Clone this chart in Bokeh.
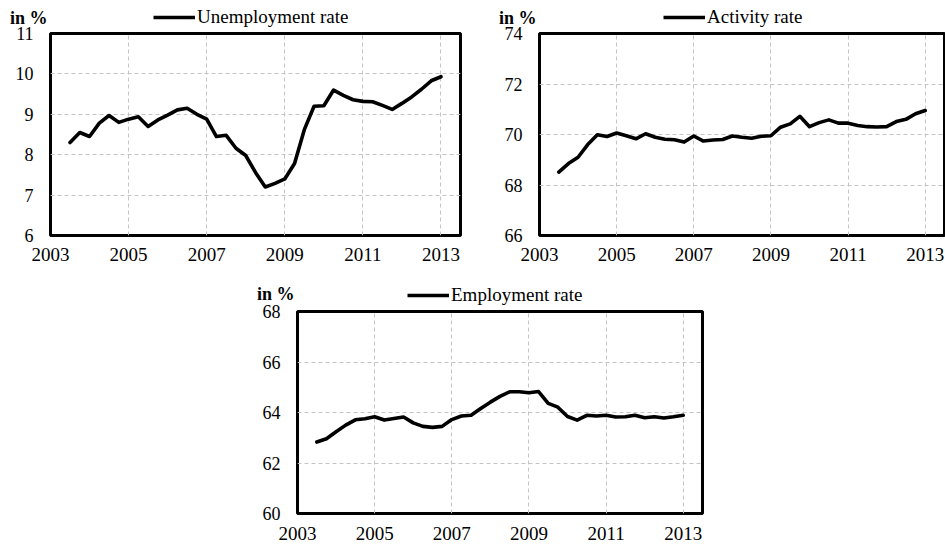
from bokeh.plotting import figure
from bokeh.models import (Range1d, FixedTicker, Legend, LegendItem, Spacer)
from bokeh.layouts import column, row
from bokeh.core.properties import value
from bokeh.embed import file_html
from bokeh.resources import INLINE

# ---- data -----------------------------------------------------------
quarters = [2003.50, 2003.75, 2004.00, 2004.25, 2004.50, 2004.75,
            2005.00, 2005.25, 2005.50, 2005.75, 2006.00, 2006.25,
            2006.50, 2006.75, 2007.00, 2007.25, 2007.50, 2007.75,
            2008.00, 2008.25, 2008.50, 2008.75, 2009.00, 2009.25,
            2009.50, 2009.75, 2010.00, 2010.25, 2010.50, 2010.75,
            2011.00, 2011.25, 2011.50, 2011.75, 2012.00, 2012.25,
            2012.50, 2012.75, 2013.00]

unemployment = [8.30, 8.55, 8.45, 8.78, 8.97, 8.80, 8.88, 8.94, 8.70, 8.86,
                8.98, 9.11, 9.15, 9.00, 8.88, 8.45, 8.48, 8.16, 7.98, 7.56,
                7.20, 7.29, 7.40, 7.78, 8.62, 9.20, 9.21, 9.60, 9.47, 9.36,
                9.32, 9.31, 9.22, 9.12, 9.27, 9.43, 9.62, 9.83, 9.93]

activity = [68.51, 68.85, 69.10, 69.60, 69.99, 69.92, 70.06, 69.95, 69.83, 70.03,
            69.89, 69.81, 69.79, 69.70, 69.94, 69.74, 69.78, 69.80, 69.94, 69.89,
            69.85, 69.93, 69.95, 70.29, 70.42, 70.72, 70.31, 70.47, 70.58, 70.45,
            70.45, 70.36, 70.31, 70.30, 70.31, 70.51, 70.60, 70.82, 70.95]

employment = [62.83, 62.96, 63.24, 63.50, 63.71, 63.75, 63.83, 63.70, 63.76, 63.82,
              63.59, 63.45, 63.41, 63.45, 63.72, 63.86, 63.89, 64.16, 64.41, 64.64,
              64.82, 64.82, 64.78, 64.83, 64.36, 64.21, 63.84, 63.70, 63.89, 63.86,
              63.89, 63.82, 63.83, 63.89, 63.79, 63.83, 63.78, 63.83, 63.89]

year_ticks = [2003, 2005, 2007, 2009, 2011, 2013]
year_labels = ["2003", "2005", "2007", "2009", "2011", "2013"]

unemp_ticks = [6, 7, 8, 9, 10, 11]
act_ticks = [66, 68, 70, 72, 74]
emp_ticks = [60, 62, 64, 66, 68]

series_names = ["Unemployment rate", "Activity rate", "Employment rate"]
unit_label = "in %"

FONT = "Liberation Serif"
LINE_W = 3.6
OVERLAP = 8   # header strip and panel overlap (both transparent there)


def header(name, xs, ys, width, height, mbl, mbr, legend_x, legend_y, unit_y):
    """Strip above a panel: the bold 'in %' note (as a one-tick axis) and the legend."""
    h = figure(width=width, height=height,
               x_range=Range1d(0, width - mbl - mbr), y_range=Range1d(0, height),
               x_axis_location=None, y_axis_location="left",
               output_backend="svg", toolbar_location=None,
               min_border_left=mbl, min_border_right=mbr,
               min_border_top=0, min_border_bottom=0)
    h.grid.visible = False
    h.outline_line_color = None
    h.background_fill_alpha = 0
    h.border_fill_alpha = 0

    ax = h.yaxis[0]
    ax.ticker = FixedTicker(ticks=[unit_y])
    ax.major_label_overrides = {unit_y: unit_label}
    ax.axis_line_color = None
    ax.major_tick_line_color = None
    ax.minor_tick_line_color = None
    ax.major_tick_out = 0
    ax.major_tick_in = 0
    ax.major_label_standoff = 3
    ax.major_label_text_font = FONT
    ax.major_label_text_font_size = "18px"
    ax.major_label_text_font_style = "bold"
    ax.major_label_text_color = "black"

    # legend glyph taken from the (hidden) series line
    ghost = h.line(xs, ys, line_width=LINE_W, line_color="black",
                   line_cap="butt", visible=False)
    legend = Legend(items=[LegendItem(label=value(name), renderers=[ghost])],
                    location=(legend_x, legend_y),
                    orientation="horizontal",
                    glyph_width=42, glyph_height=16, label_height=16,
                    label_standoff=2, padding=0, margin=0, spacing=0,
                    border_line_color=None, background_fill_alpha=0,
                    inactive_fill_alpha=0,
                    label_text_font=FONT, label_text_font_size="19px",
                    label_text_color="black")
    h.add_layout(legend)
    return h


def panel(ys, yticks, width, height, mbl, mbr, mbt, mbb, x_standoff):
    p = figure(width=width, height=height,
               x_range=Range1d(2003, 2013.5),
               y_range=Range1d(yticks[0], yticks[-1]),
               output_backend="svg", toolbar_location=None,
               min_border_left=mbl, min_border_right=mbr,
               min_border_top=mbt, min_border_bottom=mbb,
               margin=(-OVERLAP, 0, 0, 0))
    p.line(quarters, ys, line_width=LINE_W, line_color="black",
           line_join="round", line_cap="round")

    p.xaxis.ticker = FixedTicker(ticks=year_ticks)
    p.xaxis.major_label_overrides = {t: l for t, l in zip(year_ticks, year_labels)}
    p.yaxis.ticker = FixedTicker(ticks=yticks)
    for ax in (p.xaxis[0], p.yaxis[0]):
        ax.axis_line_color = None
        ax.major_tick_line_color = None
        ax.minor_tick_line_color = None
        ax.major_tick_out = 0
        ax.major_tick_in = 0
        ax.major_label_text_font = FONT
        ax.major_label_text_color = "black"
    p.xaxis.major_label_text_font_size = "19px"
    p.yaxis.major_label_text_font_size = "18px"
    p.xaxis.major_label_standoff = x_standoff
    p.yaxis.major_label_standoff = 17

    for g in (p.xgrid[0], p.ygrid[0]):
        g.grid_line_color = "#c4c4c4"
        g.grid_line_dash = "4 3"
        g.grid_line_width = 1

    p.outline_line_color = "black"
    p.outline_line_width = 3
    p.background_fill_color = "white"
    p.border_fill_alpha = 0
    return p


# top row: two panels (header 0..30, panel 22..268, frame 33..235)
h1 = header(series_names[0], quarters, unemployment, 478, 30, 50, 18, 103, 2, 7.5)
p1 = panel(unemployment, unemp_ticks, 478, 246, 50, 18, 11, 33, 12)
h2 = header(series_names[1], quarters, activity, 467, 30, 61, 1, 124, 2, 7.0)
p2 = panel(activity, act_ticks, 467, 246, 61, 1, 11, 33, 12)

# bottom row: centred panel (header 268..308, panel 300..543, frame 311..513)
h3 = header(series_names[2], quarters, employment, 476, 40, 59, 12, 110, 2, 5.5)
p3 = panel(employment, emp_ticks, 476, 243, 59, 12, 11, 30, 13)

layout = column(
    row(column(h1, p1), column(h2, p2)),
    row(Spacer(width=238, height=275), column(h3, p3)),
)

open("out.html", "w").write(file_html(layout, INLINE))
